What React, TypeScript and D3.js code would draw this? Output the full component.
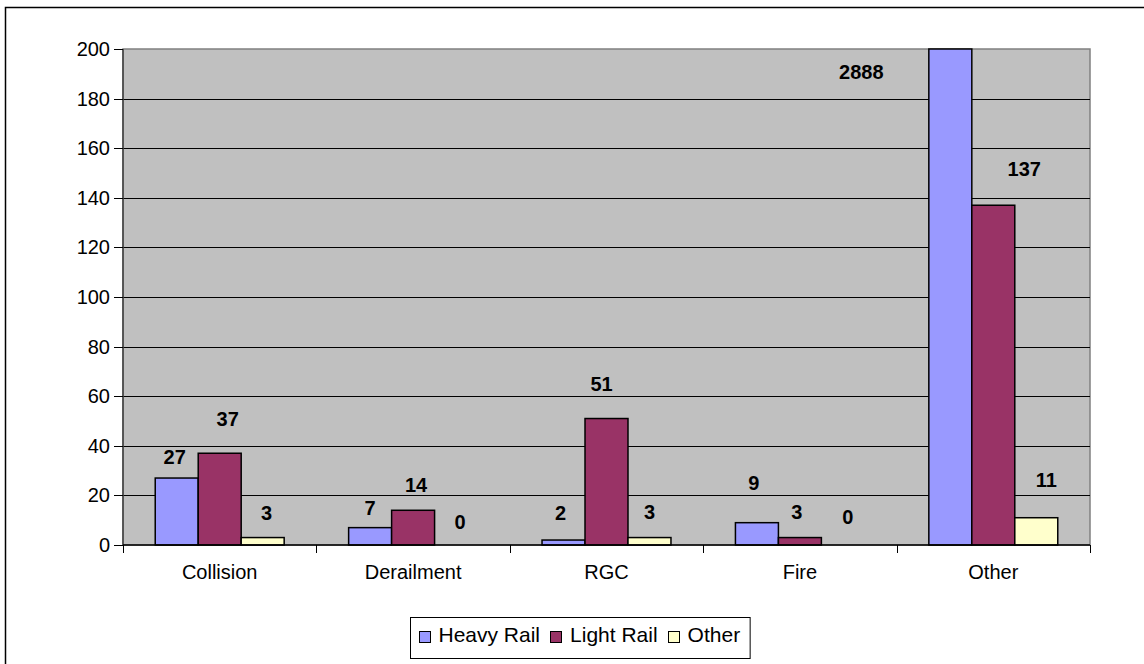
import React, { useEffect, useRef } from 'react';
import * as d3 from 'd3';

const categories = ['Collision', 'Derailment', 'RGC', 'Fire', 'Other'];
const seriesNames = ['Heavy Rail', 'Light Rail', 'Other'];
const heavyRail = [27, 7, 2, 9, 2888];
const lightRail = [37, 14, 51, 3, 137];
const otherRail = [3, 0, 3, 0, 11];
const yTickValues = [0, 20, 40, 60, 80, 100, 120, 140, 160, 180, 200];

const seriesColors = ['#9999FF', '#993366', '#FFFFCC'];
// manual label placement offsets [dx, dy] (px), per series per category
const labelNudge = [
  [[-2, 5], [0, 6], [-3, -1], [-3, -14], [-89, 49]],
  [[8, -8], [3, 1], [-5, -9], [-3, 0], [31, -10]],
  [[4, 1], [4, 3], [0, 0], [5, -2], [10, -12]],
];

const W = 1144;
const H = 664;
const FONT = "Arial, 'Liberation Sans', sans-serif";

export default function App() {
  const ref = useRef<SVGSVGElement>(null);

  useEffect(() => {
    const svg = d3.select(ref.current);
    svg.selectAll('*').remove();

    const seriesValues = [heavyRail, lightRail, otherRail];
    const left = 123, right = 1090, top = 49, bottom = 545;

    // outer chart border
    svg.append('rect').attr('x', 5.5).attr('y', 7.5).attr('width', W + 50).attr('height', H + 50)
      .attr('fill', '#fff').attr('stroke', '#000').attr('stroke-width', 1.5);

    const x = d3.scaleBand<string>().domain(categories).range([left, right]).padding(0);
    const xs = d3.scaleBand<string>().domain(seriesNames).range([0, x.bandwidth()])
      .paddingInner(0).paddingOuter(0.75);
    const y = d3.scaleLinear().domain([0, 200]).range([bottom, top]).clamp(true);

    // plot area
    svg.append('rect').attr('x', left).attr('y', top).attr('width', right - left).attr('height', bottom - top)
      .attr('fill', '#C0C0C0').attr('stroke', '#808080').attr('stroke-width', 1.5);

    // gridlines
    svg.append('g').selectAll('line').data(yTickValues.filter(v => v > 0 && v < 200)).join('line')
      .attr('x1', left).attr('x2', right)
      .attr('y1', d => Math.round(y(d)) + 0.5).attr('y2', d => Math.round(y(d)) + 0.5)
      .attr('stroke', '#000').attr('stroke-width', 1);

    // bars
    seriesValues.forEach((vals, si) => {
      svg.append('g').selectAll('rect').data(vals).join('rect')
        .attr('x', (d, i) => (x(categories[i]) as number) + (xs(seriesNames[si]) as number))
        .attr('y', d => y(d))
        .attr('width', xs.bandwidth())
        .attr('height', d => bottom - y(d))
        .attr('fill', seriesColors[si])
        .attr('stroke', '#000').attr('stroke-width', 1.5);
    });

    // axes
    svg.append('line').attr('x1', left).attr('x2', left).attr('y1', top).attr('y2', bottom)
      .attr('stroke', '#404040').attr('stroke-width', 1.5);
    svg.append('line').attr('x1', left).attr('x2', right).attr('y1', bottom).attr('y2', bottom)
      .attr('stroke', '#000').attr('stroke-width', 1.5);

    // y ticks + labels
    const yt = svg.append('g');
    yt.selectAll('line').data(yTickValues).join('line')
      .attr('x1', left - 9).attr('x2', left)
      .attr('y1', d => Math.round(y(d)) + 0.5).attr('y2', d => Math.round(y(d)) + 0.5)
      .attr('stroke', '#000');
    yt.selectAll('text').data(yTickValues).join('text')
      .attr('x', 110).attr('y', d => y(d) + 7)
      .attr('text-anchor', 'end').attr('font-family', FONT).attr('font-size', 20).attr('fill', '#000')
      .text(d => d);

    // x ticks + labels
    const boundaries = categories.map(c => x(c) as number).concat([right]);
    svg.append('g').selectAll('line').data(boundaries).join('line')
      .attr('x1', d => Math.round(d) + 0.5).attr('x2', d => Math.round(d) + 0.5)
      .attr('y1', bottom).attr('y2', bottom + 8)
      .attr('stroke', '#000');
    svg.append('g').selectAll('text').data(categories).join('text')
      .attr('x', d => (x(d) as number) + x.bandwidth() / 2).attr('y', 579)
      .attr('text-anchor', 'middle').attr('font-family', FONT).attr('font-size', 20).attr('fill', '#000')
      .text(d => d);

    // data labels
    seriesValues.forEach((vals, si) => {
      svg.append('g').selectAll('text').data(vals).join('text')
        .attr('x', (d, i) => (x(categories[i]) as number) + (xs(seriesNames[si]) as number) + xs.bandwidth() / 2 + labelNudge[si][i][0])
        .attr('y', (d, i) => y(d) - 26 + labelNudge[si][i][1] + 7)
        .attr('text-anchor', 'middle').attr('font-family', FONT).attr('font-size', 20)
        .attr('font-weight', 'bold').attr('fill', '#000')
        .text(d => d);
    });

    // legend
    const lg = svg.append('g');
    const box = lg.append('rect').attr('fill', '#fff').attr('stroke', '#000').attr('stroke-width', 1);
    const padL = 8, padR = 10, sq = 11, sqGap = 9, itemGap = 10;
    let cx = 0;
    const items: { sx: number; tx: number }[] = [];
    const texts = seriesNames.map((name) =>
      lg.append('text').attr('y', 642).attr('font-family', FONT).attr('font-size', 21)
        .attr('fill', '#000').text(name));
    texts.forEach((t, i) => {
      const w = (t.node() as SVGTextElement).getComputedTextLength();
      items.push({ sx: cx, tx: cx + sq + sqGap });
      cx += sq + sqGap + w + (i < texts.length - 1 ? itemGap : 0);
    });
    const totalW = cx + padL + padR;
    const bx = Math.round(579.5 - totalW / 2) + 0.5;
    box.attr('x', bx).attr('y', 617.5).attr('width', totalW).attr('height', 41);
    texts.forEach((t, i) => {
      t.attr('x', bx + padL + items[i].tx);
      lg.append('rect').attr('x', Math.round(bx + padL + items[i].sx) + 0.5).attr('y', 631.5)
        .attr('width', sq).attr('height', sq)
        .attr('fill', seriesColors[i]).attr('stroke', '#000').attr('stroke-width', 1);
    });
  }, []);

  return (
    <svg ref={ref} width={W} height={H}
      style={{ position: 'absolute', left: 0, top: 0, background: '#fff' }} />
  );
}
